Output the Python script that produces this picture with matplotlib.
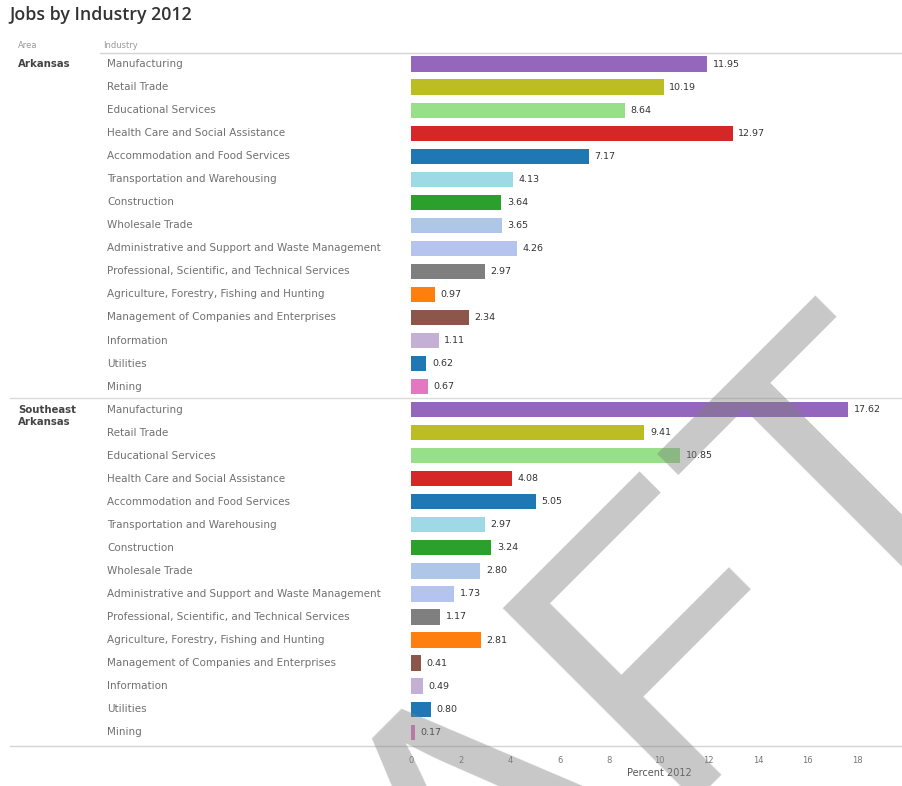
import numpy as np
import matplotlib.pyplot as plt
from matplotlib.lines import Line2D
from matplotlib.transforms import blended_transform_factory

areas = ["Arkansas", "Southeast\nArkansas"]
industries = [
    "Manufacturing",
    "Retail Trade",
    "Educational Services",
    "Health Care and Social Assistance",
    "Accommodation and Food Services",
    "Transportation and Warehousing",
    "Construction",
    "Wholesale Trade",
    "Administrative and Support and Waste Management",
    "Professional, Scientific, and Technical Services",
    "Agriculture, Forestry, Fishing and Hunting",
    "Management of Companies and Enterprises",
    "Information",
    "Utilities",
    "Mining",
]
arkansas = [11.95, 10.19, 8.64, 12.97, 7.17, 4.13, 3.64, 3.65, 4.26, 2.97, 0.97, 2.34, 1.11, 0.62, 0.67]
southeast = [17.62, 9.41, 10.85, 4.08, 5.05, 2.97, 3.24, 2.80, 1.73, 1.17, 2.81, 0.41, 0.49, 0.80, 0.17]
industry_colors = [
    "#9467bd", "#bcbd22", "#98df8a", "#d62728", "#1f77b4",
    "#9edae5", "#2ca02c", "#aec7e8", "#b4c4ee", "#7f7f7f",
    "#ff7f0e", "#8c564b", "#c5b0d5", "#1f77b4", "#e377c2",
]
xticks = list(range(0, 21, 2))

W, H = 902, 786


def fx(px):
    return px / W


def fy(py):
    return 1 - py / H


fig = plt.figure(figsize=(W / 100, H / 100), dpi=100)
fig.patch.set_facecolor("white")

ax = fig.add_axes([fx(411), fy(746), (907 - 411) / W, (746 - 53) / H])

values = arkansas + southeast
ypos = np.arange(len(values))
ax.barh(ypos, values, height=0.66, color=industry_colors * 2, linewidth=0)
ax.set_xlim(0, 20)
ax.set_ylim(len(values) - 0.4, -0.48)

for y, v in zip(ypos, values):
    ax.annotate(f"{v:.2f}", (v, y), xytext=(4, 0), textcoords="offset points",
                va="center", ha="left", fontsize=6.8, color="#333333")

for s in ax.spines.values():
    s.set_visible(False)
ax.set_yticks([])
ax.set_xticks(xticks)
ax.tick_params(axis="x", length=0, pad=7, labelsize=6, labelcolor="#777777")
ax.set_xlabel("Percent 2012", fontsize=7, color="#555555", labelpad=2)

# row labels on the left
tr = blended_transform_factory(fig.transFigure, ax.transData)
for k, area in enumerate(areas):
    base = k * len(industries)
    ax.text(fx(18), base - 0.22, area, transform=tr, ha="left", va="top",
            fontsize=7.3, fontweight="bold", color="#444444", linespacing=1.25)
    for i, name in enumerate(industries):
        ax.text(fx(107), base + i, name, transform=tr, ha="left", va="center",
                fontsize=7.5, color="#707070")

# header and separators
fig.text(fx(18), fy(46), "Area", fontsize=6, color="#999999", va="center")
fig.text(fx(103), fy(46), "Industry", fontsize=6, color="#999999", va="center")
fig.add_artist(Line2D([fx(100), 1], [fy(53)] * 2, color="#d4d4d4", lw=1))
fig.add_artist(Line2D([fx(10), 1], [fy(398)] * 2, color="#dadada", lw=1))
fig.add_artist(Line2D([fx(10), 1], [fy(746)] * 2, color="#d4d4d4", lw=1))

fig.text(fx(9), fy(15), "Jobs by Industry 2012", fontsize=12.8, family="Open Sans",
         fontweight="semibold", color="#333333", va="center", ha="left")

# watermark
fig.text(fx(1005), fy(457), "DRAFT", rotation=45, rotation_mode="anchor",
         ha="right", va="baseline", fontsize=285, family="Liberation Sans",
         color="#808080", alpha=0.43, zorder=10)

fig.savefig("out.png", dpi=100)
